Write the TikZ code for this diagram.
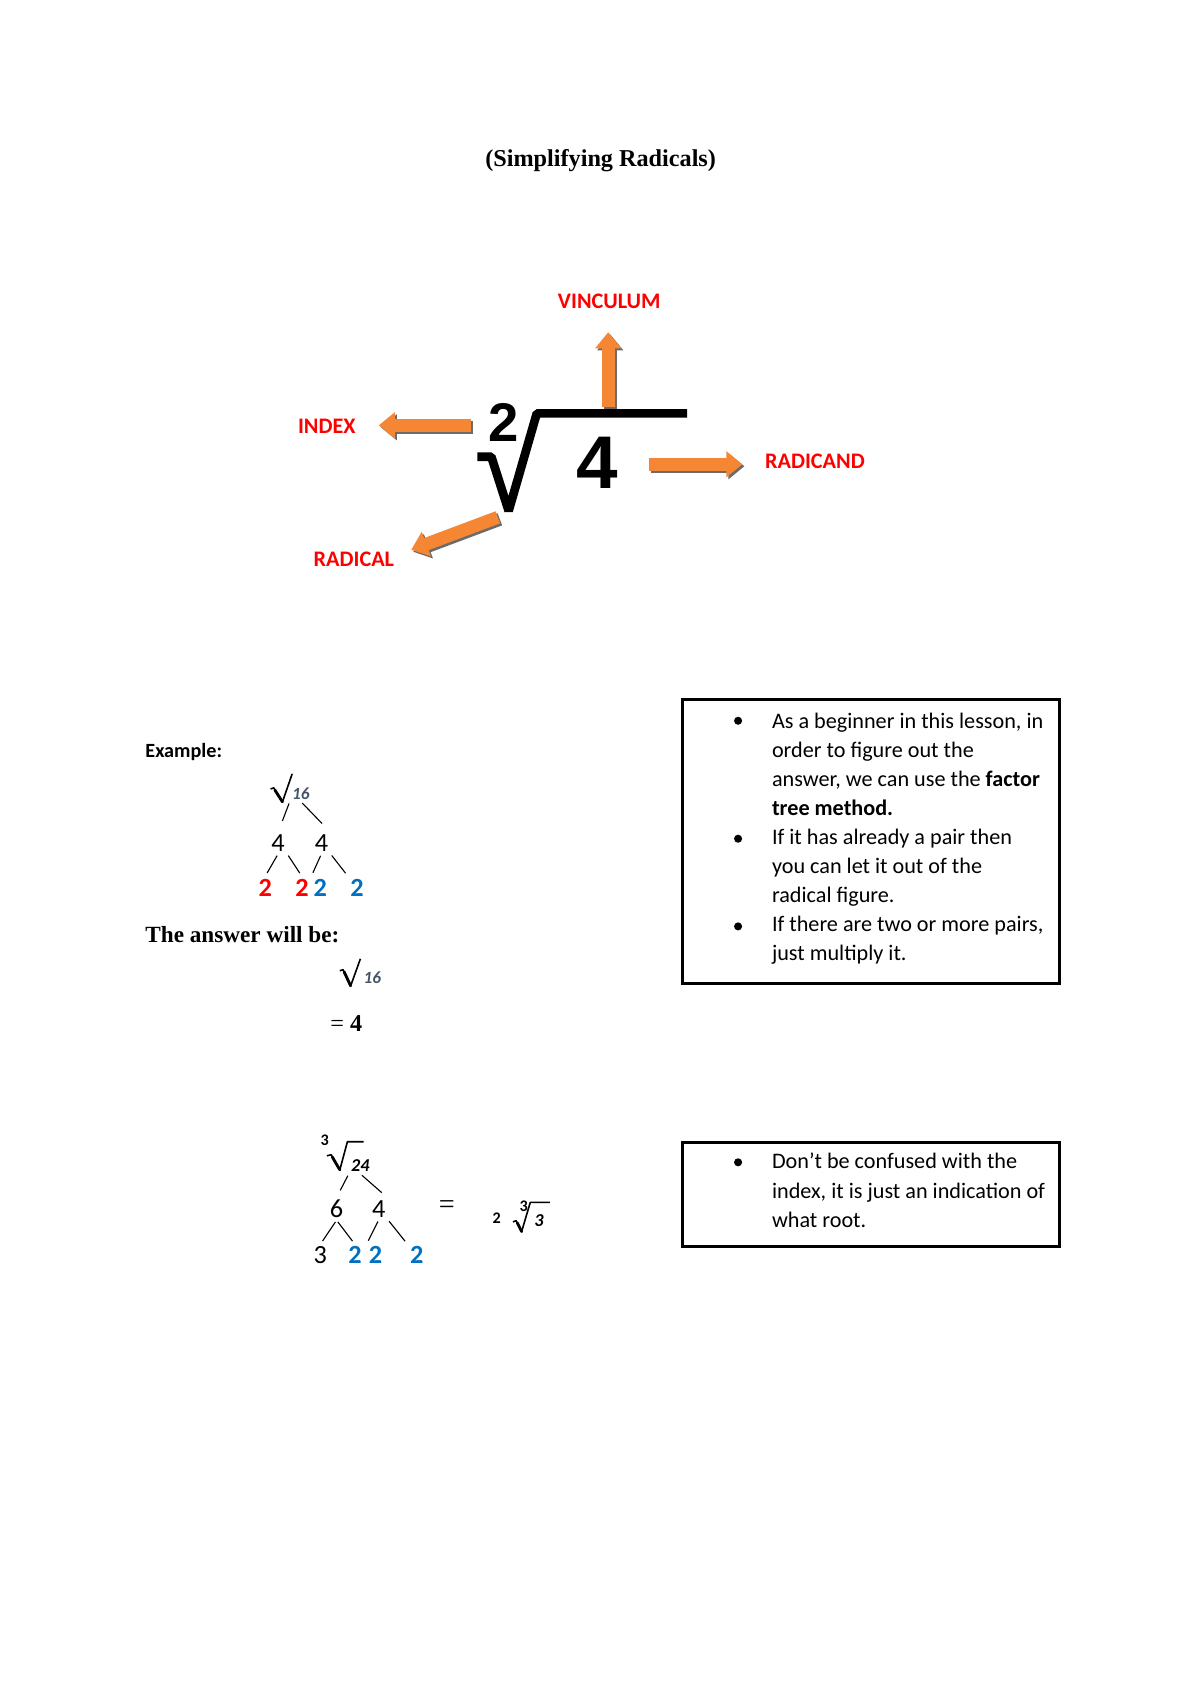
\documentclass[tikz,border=0pt]{standalone}
\usepackage{fontspec}
\setmainfont{Carlito}
\newfontfamily\titlefont{Liberation Serif}
\newfontfamily\signfont{Liberation Sans}
\usetikzlibrary{arrows.meta}
\definecolor{arroworange}{HTML}{F58634}
\definecolor{arrowshade}{HTML}{6B6B6B}
\definecolor{labelred}{HTML}{FF0000}
\definecolor{pairblue}{HTML}{0070C0}
\definecolor{slate}{HTML}{44546A}

\begin{document}
\begin{tikzpicture}[x=0.5365pt,y=-0.5365pt,
    partname/.style={text=labelred,font=\bfseries\fontsize{11}{13}\selectfont},
    blockarrow/.style={line width=6.4pt,arroworange,-{Triangle[length=8pt,width=12.5pt]}},
    blockshade/.style={line width=6.4pt,arrowshade,-{Triangle[length=8pt,width=12.5pt]},transform canvas={shift={(1pt,-1pt)}}},
    factor/.style={inner sep=1pt,font=\fontsize{13}{13}\selectfont},
    pairA/.style={factor,text=labelred,font=\bfseries\fontsize{13}{13}\selectfont},
    pairB/.style={factor,text=pairblue,font=\bfseries\fontsize{13}{13}\selectfont},
    branch/.style={line width=0.55pt,shorten <=1pt,shorten >=2pt},
    radsign/.style={line width=0.8pt,line join=round},
    radstem/.style={line width=1.4pt,line cap=round},
    small/.style={inner sep=1pt,font=\bfseries\itshape\fontsize{8.5}{8.5}\selectfont},
    notebox/.style={draw,line width=1.4pt},
    dot/.style={circle,fill,inner sep=0pt,minimum size=4pt}]
\useasboundingbox (0,0) rectangle (1109,1569);

\node[font=\titlefont\bfseries\fontsize{12}{14}\selectfont] (title) at (555,148) {(Simplifying Radicals)};

\node[inner sep=0pt,font=\signfont\bfseries\fontsize{27}{27}\selectfont] (idx) at (465,390) {2};
\node[inner sep=0pt,font=\signfont\bfseries\fontsize{37}{37}\selectfont] (rnd) at (552,428) {4};
\draw[line width=4.3pt,line join=bevel] (441,422) -- (454,422) -- (470,472) -- (496,382) -- (635,382);

\coordinate (vincTail) at (562,376);
\coordinate (vincTip) at (562,307);
\coordinate (indexTail) at (435,393);
\coordinate (indexTip) at (350,393);
\coordinate (radicandTail) at (600,429);
\coordinate (radicandTip) at (686,429);
\coordinate (radicalTail) at (460,478);
\coordinate (radicalTip) at (380,508);
\draw[blockshade] (vincTail) -- (vincTip);
\draw[blockshade] (indexTail) -- (indexTip);
\draw[blockshade] (radicandTail) -- (radicandTip);
\draw[blockshade] (radicalTail) -- (radicalTip);
\draw[blockarrow] (vincTail) -- (vincTip);
\draw[blockarrow] (indexTail) -- (indexTip);
\draw[blockarrow] (radicandTail) -- (radicandTip);
\draw[blockarrow] (radicalTail) -- (radicalTip);

\node[partname] (lblVinc) at (563,278) {VINCULUM};
\node[partname] (lblIndex) at (302,394) {INDEX};
\node[partname] (lblRadicand) at (753,426) {RADICAND};
\node[partname] (lblRadical) at (327,517) {RADICAL};

\node[anchor=west,inner sep=0pt,font=\bfseries] (example) at (134,695) {Example:};

\node[small,text=slate] (sixteen) at (278,733) {16};
\draw[radsign] (250,729) -- (253,728) -- (261,741) -- (270,715);
\draw[radstem] (254,730) -- (261,741);
\node[factor] (fourA) at (257,779) {4};
\node[factor] (fourB) at (297,779) {4};
\node[pairA] (twoA) at (245,820) {2};
\node[pairA] (twoB) at (279,820) {2};
\node[pairB] (twoC) at (296,820) {2};
\node[pairB] (twoD) at (330,820) {2};
\draw[branch,shorten >=6pt] (sixteen.south west) -- (fourA.north);
\draw[branch,shorten >=6pt] (sixteen.south) -- (fourB.north east);
\draw[branch] (fourA.south) -- (twoA.north);
\draw[branch] (fourA.south east) -- (twoB.north);
\draw[branch] (fourB.south) -- (twoC.north west);
\draw[branch] (fourB.south east) -- (twoD.north west);

\node[anchor=west,inner sep=0pt,font=\titlefont\bfseries\fontsize{11.5}{14}\selectfont] (answer) at (134,864) {The answer will be:};
\node[small,text=slate] (sixteenB) at (344,903) {16};
\draw[radsign] (314,897) -- (317,896) -- (324,911) -- (333,886);
\draw[radstem] (318,898) -- (324,911);
\node[font=\titlefont\fontsize{12}{14}\selectfont] (result) at (320,946) {= \textbf{4}};

\node[inner sep=1pt,font=\bfseries\fontsize{8}{8}\selectfont] (indexC) at (300,1054) {3};
\draw[radsign] (302,1068) -- (306,1067) -- (314,1081) -- (321,1055) -- (336,1055);
\draw[radstem] (307,1069) -- (314,1081);
\node[small,font=\bfseries\itshape\fontsize{9}{9}\selectfont] (twentyfour) at (333,1077) {24};
\node[factor] (six) at (311,1117) {6};
\node[factor] (fourC) at (350,1117) {4};
\node[factor] (three) at (296,1160) {3};
\node[pairB] (twoE) at (328,1160) {2};
\node[pairB] (twoF) at (347,1160) {2};
\node[pairB] (twoG) at (385,1160) {2};
\draw[branch,shorten >=4pt] (twentyfour.south west) -- (six.north);
\draw[branch,shorten >=4pt] (twentyfour.south) -- (fourC.north east);
\draw[branch] (six.south) -- (three.north);
\draw[branch] (six.south) -- (twoE.north);
\draw[branch] (fourC.south) -- (twoF.north west);
\draw[branch] (fourC.south east) -- (twoG.north west);

\node[font=\titlefont\fontsize{14}{14}\selectfont] (equals) at (413,1115) {=};
\node[inner sep=1pt,font=\bfseries\fontsize{8}{8}\selectfont] (coef) at (459,1126) {2};
\node[inner sep=1pt,font=\bfseries\fontsize{8}{8}\selectfont] (indexD) at (484,1115) {3};
\draw[radsign] (474,1129) -- (477,1128) -- (482,1138) -- (490,1111) -- (508,1111);
\draw[radstem] (478,1130) -- (482,1138);
\node[small,font=\bfseries\itshape\fontsize{9}{9}\selectfont] (radicandD) at (498,1128) {3};

\draw[notebox] (631,646) rectangle (979,909);
\node[dot] (dotA) at (682,666) {};
\node[dot] (dotB) at (682,775) {};
\node[dot] (dotC) at (682,856) {};
\node[anchor=north west,align=left,inner sep=0pt,font=\fontsize{11}{14.4}\selectfont] (noteA) at (713,654)
  {\strut As a beginner in this lesson, in\\order to figure out the\\answer, we can use the \textbf{factor}\\\textbf{tree method.}\\If it has already a pair then\\you can let it out of the\\radical figure.\\If there are two or more pairs,\\just multiply it.};

\draw[notebox] (631,1056) rectangle (979,1152);
\node[dot] (dotD) at (682,1074) {};
\node[anchor=north west,align=left,inner sep=0pt,font=\fontsize{11}{14.4}\selectfont] (noteB) at (713,1061)
  {\strut Don’t be confused with the\\index, it is just an indication of\\what root.};
\end{tikzpicture}
\end{document}
